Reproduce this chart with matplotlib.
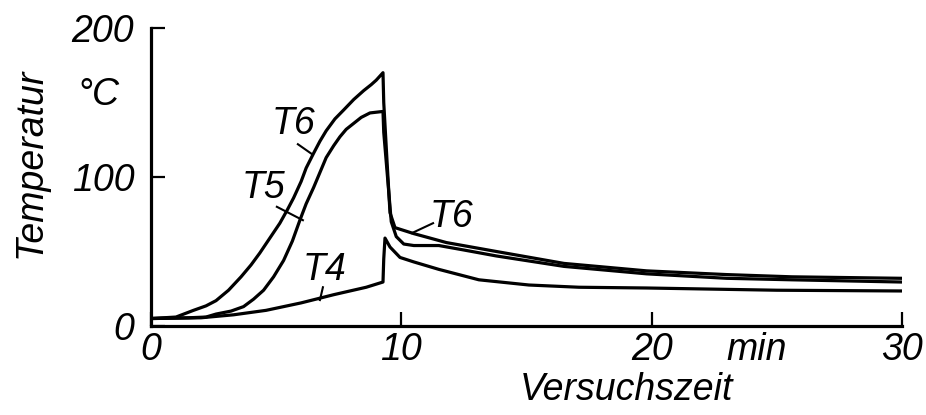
import matplotlib.pyplot as plt

# Messpunkte (Versuchszeit in min, Temperatur in °C)
t6_t = [0, 1.0, 1.7, 2.2, 2.6, 3.1, 3.6, 4.0, 4.35, 4.75, 5.15, 5.45, 5.7, 6.0, 6.2,
        6.5, 6.75, 7.0, 7.35, 7.7, 8.1, 8.5, 8.8, 9.0, 9.27,
        9.3, 9.43, 9.55, 9.75, 10.5, 11.8, 13.8, 16.5, 19.8, 23.0, 25.6, 30.0]
t6_v = [5, 6, 10.5, 13.5, 17, 24, 33, 41, 49, 59, 69, 78, 86, 97, 106,
        116, 124, 131, 139, 145, 152, 158, 162, 165, 170,
        150, 111, 76, 66, 62, 56, 50, 42, 37, 34.5, 33, 32]

t5_t = [0, 1.5, 2.2, 2.6, 3.2, 3.7, 4.1, 4.5, 4.9, 5.3, 5.65, 5.95, 6.2, 6.5, 6.75,
        7.0, 7.3, 7.55, 7.8, 8.1, 8.4, 8.75, 9.27,
        9.3, 9.45, 9.6, 9.8, 10.1, 10.5, 11.5, 12.5, 13.8, 16.5, 19.8, 23.0, 25.6, 30.0]
t5_v = [5, 5.5, 6, 8, 10, 13, 18, 24, 33, 44, 57, 71, 82, 93, 103,
        113, 121, 127, 132, 136, 140, 143, 144,
        130, 100, 70, 60, 55, 54, 54, 51, 47, 40, 35, 32, 31, 29.5]

t4_t = [0, 2.0, 3.3, 4.6, 6.0, 7.3, 8.6, 9.27, 9.3, 9.35, 9.55, 9.95, 10.5,
        11.5, 13.1, 15.1, 17.1, 19.8, 25.0, 30.0]
t4_v = [5, 5.5, 7.5, 10.5, 15.5, 21, 26, 29.5, 45, 59, 53, 46, 43,
        38, 31, 27.5, 26, 25.5, 24, 23.5]

x_ticks = [0, 10, 20, 30]
y_ticks = [0, 100, 200]

plt.rcParams['font.family'] = ['Liberation Sans', 'DejaVu Sans']
plt.rcParams['font.style'] = 'italic'
fs = 27

fig = plt.figure(figsize=(9.26, 4.15), dpi=100)
ax = fig.add_axes([0.163, 0.2145, 0.811, 0.718])

for t, v in [(t6_t, t6_v), (t5_t, t5_v), (t4_t, t4_v)]:
    ax.plot(t, v, color='black', lw=2.3, solid_joinstyle='round')

ax.set_xlim(0, 30)
ax.set_ylim(0, 200)
ax.spines['top'].set_visible(False)
ax.spines['right'].set_visible(False)
ax.spines['left'].set_linewidth(2.3)
ax.spines['bottom'].set_linewidth(2.3)

ax.set_xticks(x_ticks)
ax.set_yticks(y_ticks)
ax.tick_params(axis='both', direction='in', length=10, width=1.6, labelsize=fs)
ax.tick_params(axis='y', pad=12)
ax.tick_params(axis='x', pad=4)

# Kurvenbezeichnungen mit Hinweisstrichen
labels = [('T6', (5.71, 135.6), (5.87, 122), (6.43, 115.4)),
          ('T5', (4.51, 92.6), (5.03, 80), (6.07, 71)),
          ('T4', (6.95, 37.6), (6.87, 26), (6.75, 17.4)),
          ('T6', (11.99, 73), (11.27, 69), (10.43, 62.4))]
for name, pos, a, b in labels:
    ax.text(pos[0], pos[1], name, fontsize=fs, ha='center', va='center')
    ax.plot([a[0], b[0]], [a[1], b[1]], color='black', lw=1.5)

ax.text(24.2, -16, 'min', fontsize=fs, ha='center', va='center', clip_on=False)
fig.text(0.106, 0.771, '°C', fontsize=fs, ha='center', va='center')
fig.text(0.033, 0.607, 'Temperatur', fontsize=fs, rotation=90, ha='center', va='center')
fig.text(0.676, 0.060, 'Versuchszeit', fontsize=fs, ha='center', va='center')

fig.savefig('out.png', dpi=100, facecolor='white')
